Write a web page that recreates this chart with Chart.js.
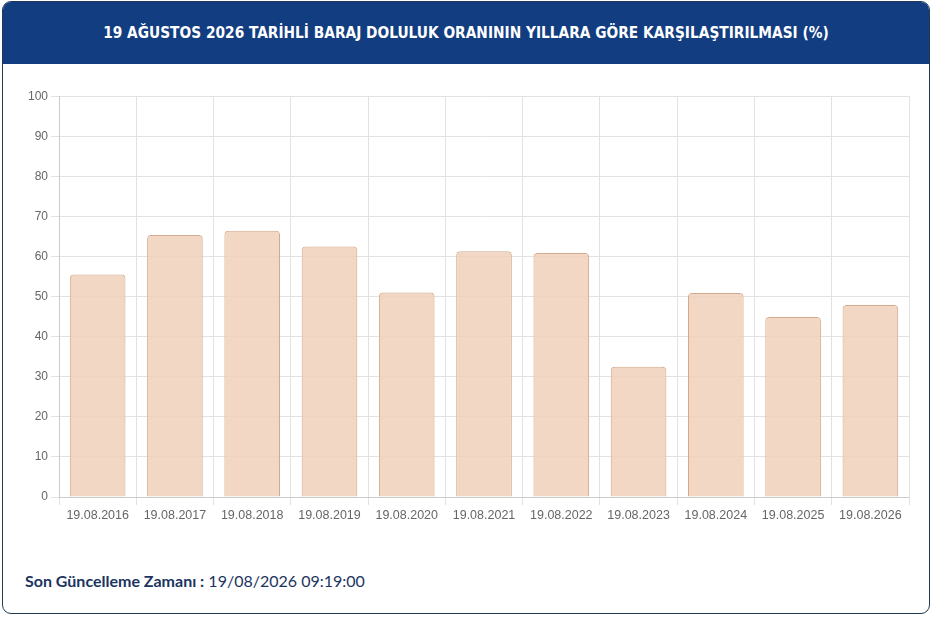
<!DOCTYPE html>
<html lang="tr">
<head>
<meta charset="utf-8">
<title>Baraj Doluluk Oranı</title>
<script src="https://cdn.jsdelivr.net/npm/chart.js@4.4.1/dist/chart.umd.min.js"></script>
<style>
    html, body { margin: 0; padding: 0; background: #ffffff; }
    .card {
        position: absolute; left: 2px; top: 1px; width: 926px; height: 611px;
        border: 1px solid #1f3a55; border-radius: 9px; overflow: hidden; background: #fff;
    }
    .card-header {
        height: 62px; background: #123d80; color: #fff;
        font-family: "DejaVu Sans Condensed", "Roboto", sans-serif; font-weight: bold;
        font-size: 15.3px; display: flex; align-items: center; justify-content: center;
    }
    .chart-box { position: absolute; left: 10px; top: 84px; width: 908px; height: 440px; }
    .footer {
        position: absolute; left: 22px; top: 569px;
        font-family: "Lato", "Noto Sans", sans-serif; font-size: 16px; color: #1b3560;
    }
    .footer b { font-weight: 700; }
</style>
</head>
<body>
<div class="card">
    <div class="card-header">19 AĞUSTOS 2026 TARİHLİ BARAJ DOLULUK ORANININ YILLARA GÖRE KARŞILAŞTIRILMASI (%)</div>
    <div class="chart-box"><canvas id="barajChart"></canvas></div>
    <div class="footer"><b>Son Güncelleme Zamanı :</b> 19/08/2026 09:19:00</div>
</div>
<script>
const dates = ['19.08.2016', '19.08.2017', '19.08.2018', '19.08.2019', '19.08.2020', '19.08.2021',
    '19.08.2022', '19.08.2023', '19.08.2024', '19.08.2025', '19.08.2026'];
const fillRates = [55.5, 65.4, 66.4, 62.5, 51.0, 61.3, 60.9, 32.5, 50.9, 44.9, 47.9];
const yTicks = [0, 10, 20, 30, 40, 50, 60, 70, 80, 90, 100];

document.addEventListener('DOMContentLoaded', function () {
    const ctx = document.getElementById('barajChart').getContext('2d');
    new Chart(ctx, {
        type: 'bar',
        data: {
            labels: dates,
            datasets: [{
                label: 'Doluluk Oranı (%)',
                data: fillRates,
                backgroundColor: 'rgba(240, 209, 186, 0.85)',
                borderColor: '#d4aa8e',
                borderWidth: 1,
                borderRadius: 4,
                borderSkipped: 'bottom'
            }]
        },
        options: {
            responsive: true,
            maintainAspectRatio: false,
            animation: false,
            layout: { padding: { left: 12, right: 12, top: 4, bottom: 0 } },
            plugins: {
                legend: { display: false },
                tooltip: { enabled: true }
            },
            scales: {
                x: {
                    grid: { color: '#e2e2e2' },
                    ticks: { color: '#666', font: { family: 'Liberation Sans', size: 12.5 } }
                },
                y: {
                    min: 0,
                    max: 100,
                    afterBuildTicks: (axis) => { axis.ticks = yTicks.map(v => ({ value: v })); },
                    grid: { color: '#e2e2e2' },
                    ticks: { color: '#666', font: { family: 'Liberation Sans', size: 12 } }
                }
            }
        }
    });
});
</script>
</body>
</html>
